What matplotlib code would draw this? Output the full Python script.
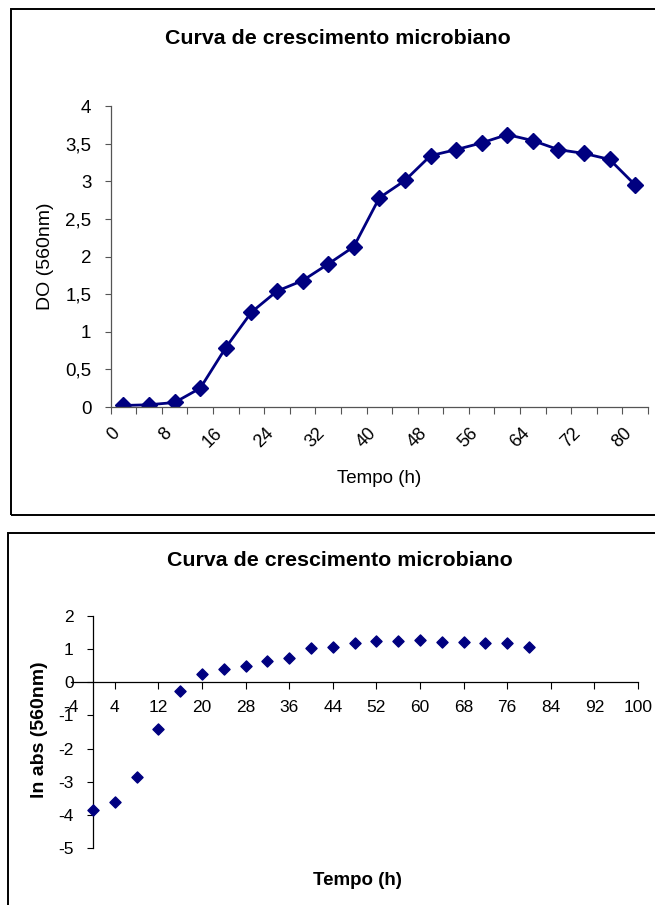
import matplotlib
matplotlib.use("Agg")
import matplotlib.pyplot as plt
import matplotlib.transforms as mtransforms
from matplotlib.patches import Rectangle

plt.rcParams['font.family'] = ['Liberation Sans', 'DejaVu Sans']

# ---- data ----
title = "Curva de crescimento microbiano"
hours = [0, 4, 8, 12, 16, 20, 24, 28, 32, 36, 40, 44, 48, 52, 56, 60, 64, 68, 72, 76, 80]
do_560 = [0.02, 0.03, 0.06, 0.25, 0.79, 1.26, 1.54, 1.68, 1.90, 2.13, 2.78,
          3.01, 3.34, 3.42, 3.51, 3.62, 3.54, 3.42, 3.37, 3.29, 2.95]
ln_abs = [-3.85, -3.60, -2.86, -1.40, -0.26, 0.24, 0.40, 0.49, 0.65, 0.73, 1.03,
          1.07, 1.20, 1.24, 1.24, 1.28, 1.23, 1.23, 1.19, 1.20, 1.07]
y1_ticks = [0, 0.5, 1, 1.5, 2, 2.5, 3, 3.5, 4]
x2_ticks = [-4, 4, 12, 20, 28, 36, 44, 52, 60, 68, 76, 84, 92, 100]
y2_ticks = [-5, -4, -3, -2, -1, 0, 1, 2]

navy = '#000080'
W, H = 655, 905

def fx(px):
    return px / W

def fy(py):
    return 1 - py / H

def num(v):
    s = ('%g' % v)
    return s.replace('.', ',')

fig = plt.figure(figsize=(W / 100, H / 100), dpi=100)

# chart frames
fig.add_artist(Rectangle((fx(11), fy(515)), fx(700 - 11), (515 - 9) / H,
                         transform=fig.transFigure, fill=False, lw=1.4, ec='black'))
fig.add_artist(Rectangle((fx(8), -0.1), fx(700 - 8), fy(533) + 0.1,
                         transform=fig.transFigure, fill=False, lw=1.4, ec='black'))

# ---------- chart 1 ----------
ax1 = fig.add_axes([fx(110.7), fy(407), fx(648 - 110.7), (407 - 106) / H])
n = len(hours)
xc = [i + 0.5 for i in range(n)]
ax1.plot(xc, do_560, color=navy, lw=2, marker='D', ms=8, mfc=navy, mec=navy)
ax1.set_xlim(0, n)
ax1.set_ylim(0, 4)
for s in ['top', 'right']:
    ax1.spines[s].set_visible(False)
for s in ['left', 'bottom']:
    ax1.spines[s].set_color('#555555')
    ax1.spines[s].set_linewidth(0.9)
ax1.set_xticks(range(n + 1))
ax1.set_xticklabels([])
ax1.set_xticks(xc[::2], minor=True)
labs = ax1.set_xticklabels([str(h) for h in hours[::2]], minor=True, rotation=45,
                           ha='right', va='top', fontsize=13)
off = mtransforms.ScaledTranslation(-2 / 100, -2 / 100, fig.dpi_scale_trans)
for t in labs:
    t.set_transform(t.get_transform() + off)
ax1.tick_params(axis='x', which='minor', length=0, pad=13)
ax1.tick_params(axis='x', which='major', length=5, direction='out', color='#555555')
ax1.set_yticks(y1_ticks)
ax1.set_yticklabels([num(v) for v in y1_ticks], fontsize=13.5)
ax1.tick_params(axis='y', length=4, direction='out', pad=10, color='#555555')
fig.text(fx(379), fy(478), 'Tempo (h)', ha='center', va='center', fontsize=13.5)
fig.text(fx(45), fy(256), 'DO (560nm)', ha='center', va='center', fontsize=14,
         rotation=90)
fig.text(fx(338), fy(38), title, ha='center', va='center', fontsize=15.4,
         fontweight='bold')

# ---------- chart 2 ----------
ax2 = fig.add_axes([fx(71.2), fy(848), fx(638 - 71.2), (848 - 616) / H])
ax2.scatter(hours, ln_abs, marker='D', s=32, color=navy, zorder=3)
ax2.set_xlim(-4, 100)
ax2.set_ylim(-5, 2)
for s in ['top', 'right']:
    ax2.spines[s].set_visible(False)
ax2.spines['left'].set_position(('data', 0))
ax2.spines['bottom'].set_position(('data', 0))
for s in ['left', 'bottom']:
    ax2.spines[s].set_color('black')
    ax2.spines[s].set_linewidth(0.9)
ax2.set_xticks(x2_ticks)
ax2.set_xticklabels([str(v) for v in x2_ticks], fontsize=12.5)
ax2.tick_params(axis='x', length=5, direction='out', pad=8)
ax2.xaxis.get_major_ticks()[0].tick1line.set_visible(False)
ax2.set_yticks(y2_ticks)
ax2.set_yticklabels([str(v) for v in y2_ticks], fontsize=12.5)
ax2.tick_params(axis='y', length=4, direction='out', pad=10)
fig.text(fx(357), fy(880), 'Tempo (h)', ha='center', va='center', fontsize=13.5,
         fontweight='bold')
fig.text(fx(40), fy(730), 'ln abs (560nm)', ha='center', va='center', fontsize=14,
         fontweight='bold', rotation=90)
fig.text(fx(340), fy(561), title, ha='center', va='center', fontsize=15.4,
         fontweight='bold')

fig.savefig('out.png', dpi=100)
